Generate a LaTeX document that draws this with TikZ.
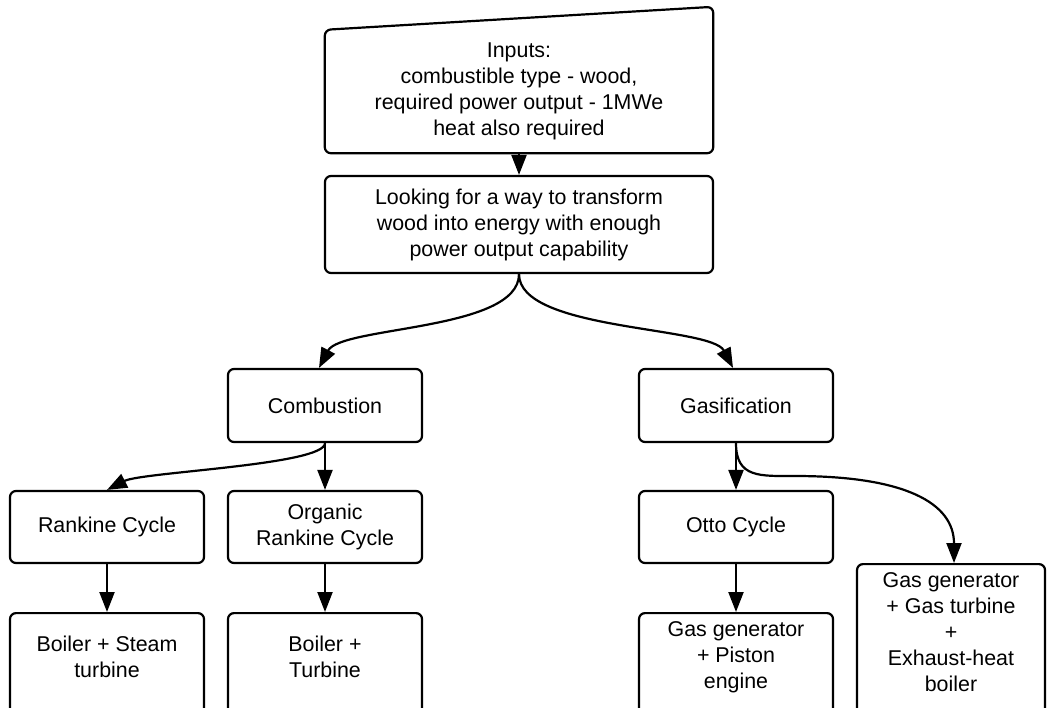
\documentclass[tikz,border=0pt]{standalone}
\usepackage{fontspec}
\setmainfont{Liberation Sans}
\usetikzlibrary{arrows.meta}
\begin{document}
\begin{tikzpicture}[x=1pt,y=-1pt,
  lbl/.style={font=\fontsize{21.4}{26}\selectfont, align=center, inner sep=0pt},
  box/.style={draw, line width=2.2pt, rounded corners=6pt, minimum width=194pt, minimum height=72pt, inner sep=0pt, align=center, font=\fontsize{21.4}{26}\selectfont},
  arr/.style={line width=2.2pt, -{Triangle[length=20pt,width=15pt]}}]
\useasboundingbox (0,0) rectangle (1047,707);
\clip (0,0) rectangle (1047,707);
% input (manual input shape)
\node[lbl, minimum width=388pt, minimum height=123pt] (inp) at (519,91.5)
  {Inputs:\\combustible type - wood,\\required power output - 1MWe\\heat also required};
\draw[line width=2.2pt, rounded corners=6pt]
  (inp.south west) -- (inp.north west) -- ([yshift=23pt]inp.north east) -- (inp.south east) -- cycle;
% boxes
\node[box, minimum width=388pt, minimum height=97pt] (look) at (519,224.5)
  {Looking for a way to transform\\wood into energy with enough\\power output capability};
\node[box, minimum height=73pt] (comb) at (325,405.5) {Combustion};
\node[box, minimum height=73pt] (gas) at (736,405.5) {Gasification};
\node[box] (rank) at (107,527) {Rankine Cycle};
\node[box] (org) at (325,527) {Organic\\Rankine Cycle};
\node[box] (otto) at (736,527) {Otto Cycle};
\node[box, minimum height=130pt, anchor=north] (b1) at (107,612) {};
\node[box, minimum height=130pt, anchor=north] (b2) at (325,612) {};
\node[box, minimum height=130pt, anchor=north] (b3) at (736,612) {};
\node[box, minimum width=188pt, minimum height=180pt, anchor=north] (b4) at (951,563) {};
\node[lbl] (b1t) at (107,656.5) {Boiler + Steam\\turbine};
\node[lbl] (b2t) at (325,656.5) {Boiler +\\Turbine};
\node[lbl] (b3t) at (736,657.5) {Gas generator\\+ Piston\\engine};
\node[lbl] (b4t) at (951,632) {Gas generator\\+ Gas turbine\\+\\Exhaust-heat\\boiler};
% connectors
\draw[arr] (inp.south) -- (look.north);
\draw[arr] (look.south) .. controls +(0,57) and +(22,-42) .. ([xshift=-6pt]comb.north);
\draw[arr] (look.south) .. controls +(0,57) and +(-22,-42) .. ([xshift=-3pt]gas.north);
\draw[arr] (comb.south) .. controls +(0,22) and +(35,-18) .. (rank.north);
\draw[arr] (comb.south) -- (org.north);
\draw[arr] (gas.south) -- (otto.north);
\draw[arr] (gas.south) .. controls +(0,35) and +(-35,0) .. (795,476)
  .. controls +(110,0) and +(0,-60) .. ([xshift=3pt]b4.north);
\draw[arr] (rank.south) -- (b1.north);
\draw[arr] (org.south) -- (b2.north);
\draw[arr] (otto.south) -- (b3.north);
\end{tikzpicture}
\end{document}
